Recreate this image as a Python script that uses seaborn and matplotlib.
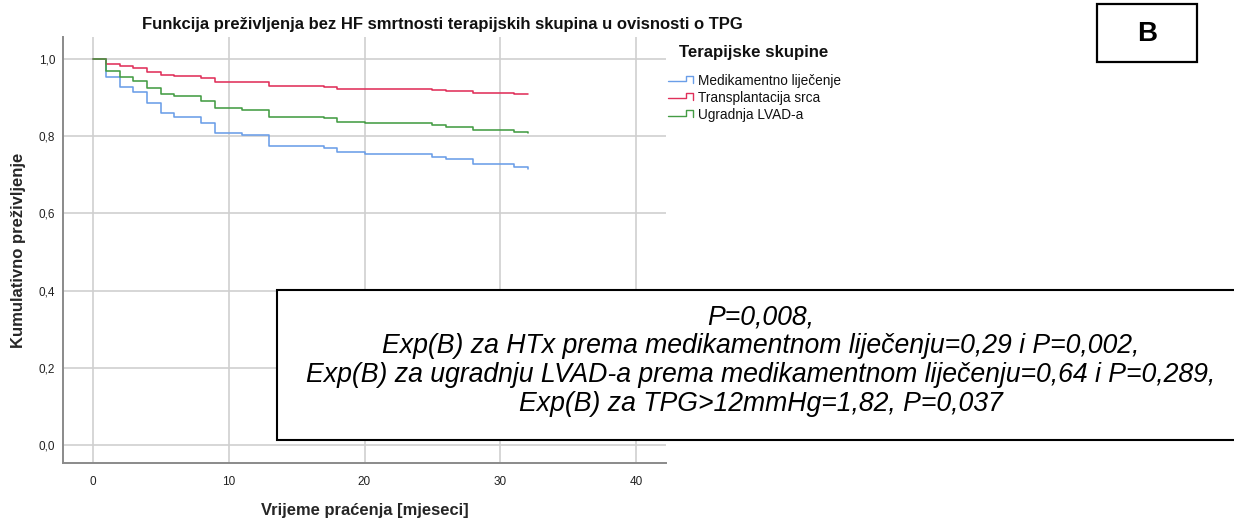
import matplotlib
matplotlib.use("Agg")
import matplotlib.pyplot as plt
from matplotlib.lines import Line2D
from matplotlib.patches import Rectangle
import pandas as pd
import seaborn as sns

# Kaplan-Meier style survival estimates per therapy group (months of follow-up)
months = [0, 1, 2, 3, 4, 5, 6, 8, 9, 11, 13, 17, 18, 20, 25, 26, 28, 31, 32]
medikamentno = [1.000, 0.954, 0.928, 0.914, 0.887, 0.861, 0.851, 0.835, 0.808, 0.803,
                0.775, 0.770, 0.758, 0.753, 0.747, 0.741, 0.727, 0.721, 0.716]
transplantacija = [1.000, 0.987, 0.981, 0.976, 0.966, 0.959, 0.956, 0.951, 0.941, 0.941,
                   0.931, 0.928, 0.923, 0.922, 0.920, 0.917, 0.913, 0.910, 0.909]
lvad = [1.000, 0.970, 0.954, 0.944, 0.926, 0.909, 0.903, 0.891, 0.872, 0.869,
        0.849, 0.846, 0.838, 0.834, 0.830, 0.824, 0.816, 0.811, 0.808]

groups = ["Medikamentno liječenje", "Transplantacija srca", "Ugradnja LVAD-a"]
palette = ["#6a9ee8", "#e0305a", "#449c44"]

x_ticks = [0, 10, 20, 30, 40]
x_tick_labels = ["0", "10", "20", "30", "40"]
y_ticks = [0.0, 0.2, 0.4, 0.6, 0.8, 1.0]
y_tick_labels = ["0,0", "0,2", "0,4", "0,6", "0,8", "1,0"]

title = "Funkcija preživljenja bez HF smrtnosti terapijskih skupina u ovisnosti o TPG"
x_label = "Vrijeme praćenja [mjeseci]"
y_label = "Kumulativno preživljenje"
legend_title = "Terapijske skupine"
stats_lines = [
    "P=0,008,",
    "Exp(B) za HTx prema medikamentnom liječenju=0,29 i P=0,002,",
    "Exp(B) za ugradnju LVAD-a prema medikamentnom liječenju=0,64 i P=0,289,",
    "Exp(B) za TPG>12mmHg=1,82, P=0,037",
]
panel_label = "B"

sns.set_theme(style="white")
plt.rcParams["font.family"] = ["Liberation Sans", "DejaVu Sans"]

df = pd.concat([
    pd.DataFrame({"t": months, "s": vals, "grupa": g})
    for g, vals in zip(groups, [medikamentno, transplantacija, lvad])
], ignore_index=True)

W, H = 1234, 520
fig = plt.figure(figsize=(W / 100, H / 100), dpi=100, facecolor="white")


def fx(px):
    return px / W


def fy(py):
    return 1 - py / H


ax = fig.add_axes([fx(63), fy(463), fx(666) - fx(63), fy(37) - fy(463)])
sns.lineplot(data=df, x="t", y="s", hue="grupa", hue_order=groups,
             palette=palette, drawstyle="steps-post", estimator=None,
             linewidth=1.15, legend=False, ax=ax, zorder=3)

ax.set_xlim(-2.17, 42.17)
ax.set_ylim(-0.0466, 1.057)
ax.set_xticks(x_ticks, x_tick_labels)
ax.set_yticks(y_ticks, y_tick_labels)
ax.tick_params(length=0, labelsize=8.5, colors="#222222")
ax.tick_params(axis="y", pad=5.5)
ax.tick_params(axis="x", pad=9.5)
ax.grid(True, color="#cfcfcf", linewidth=1.2)
ax.set_axisbelow(True)
for side in ["top", "right"]:
    ax.spines[side].set_visible(False)
for side in ["left", "bottom"]:
    ax.spines[side].set_color("#8a8a8a")
    ax.spines[side].set_linewidth(1.4)

ax.set_xlabel(x_label, fontsize=11.9, fontweight="bold", va="center")
ax.set_ylabel(y_label, fontsize=12, fontweight="bold", va="center")
ax.xaxis.set_label_coords(0.5, (463 - 510) / 426)
ax.yaxis.set_label_coords((18 - 63) / 603, 0.5)

fig.text(fx(442), fy(24), title, ha="center", va="center",
         fontsize=12, fontweight="bold", color="#111111")

# Legend with step-shaped keys
fig.text(fx(679), fy(52.5), legend_title, ha="left", va="center",
         fontsize=12.1, fontweight="bold", color="#111111")
for i, (g, c) in enumerate(zip(groups, palette)):
    yc = 80.7 + i * 17.2
    kx = [668, 686, 686, 693, 693]
    ky = [yc + 0.5, yc + 0.5, yc - 5, yc - 5, yc + 2]
    fig.add_artist(Line2D([fx(v) for v in kx], [fy(v) for v in ky],
                          color=c, linewidth=1.0, transform=fig.transFigure))
    fig.text(fx(698), fy(yc), g, ha="left", va="center", fontsize=9.8,
             color="#111111")

# Statistics annotation box
fig.add_artist(Rectangle((fx(277), fy(440)), fx(1236) - fx(277), fy(290) - fy(440),
                         transform=fig.transFigure, facecolor="white",
                         edgecolor="black", linewidth=1.5, zorder=5))
for i, line in enumerate(stats_lines):
    fig.text(fx(761), fy(317.5 + i * 28.7), line, ha="center", va="center",
             fontsize=19.2, fontstyle="italic", color="black", zorder=6)

# Panel label
fig.add_artist(Rectangle((fx(1097), fy(62)), fx(1197) - fx(1097), fy(4) - fy(62),
                         transform=fig.transFigure, facecolor="white",
                         edgecolor="black", linewidth=1.6, zorder=5))
fig.text(fx(1147), fy(34), panel_label, ha="center", va="center",
         fontsize=20, fontweight="bold", color="black", zorder=6)

fig.savefig("out.png", dpi=100, facecolor="white")
